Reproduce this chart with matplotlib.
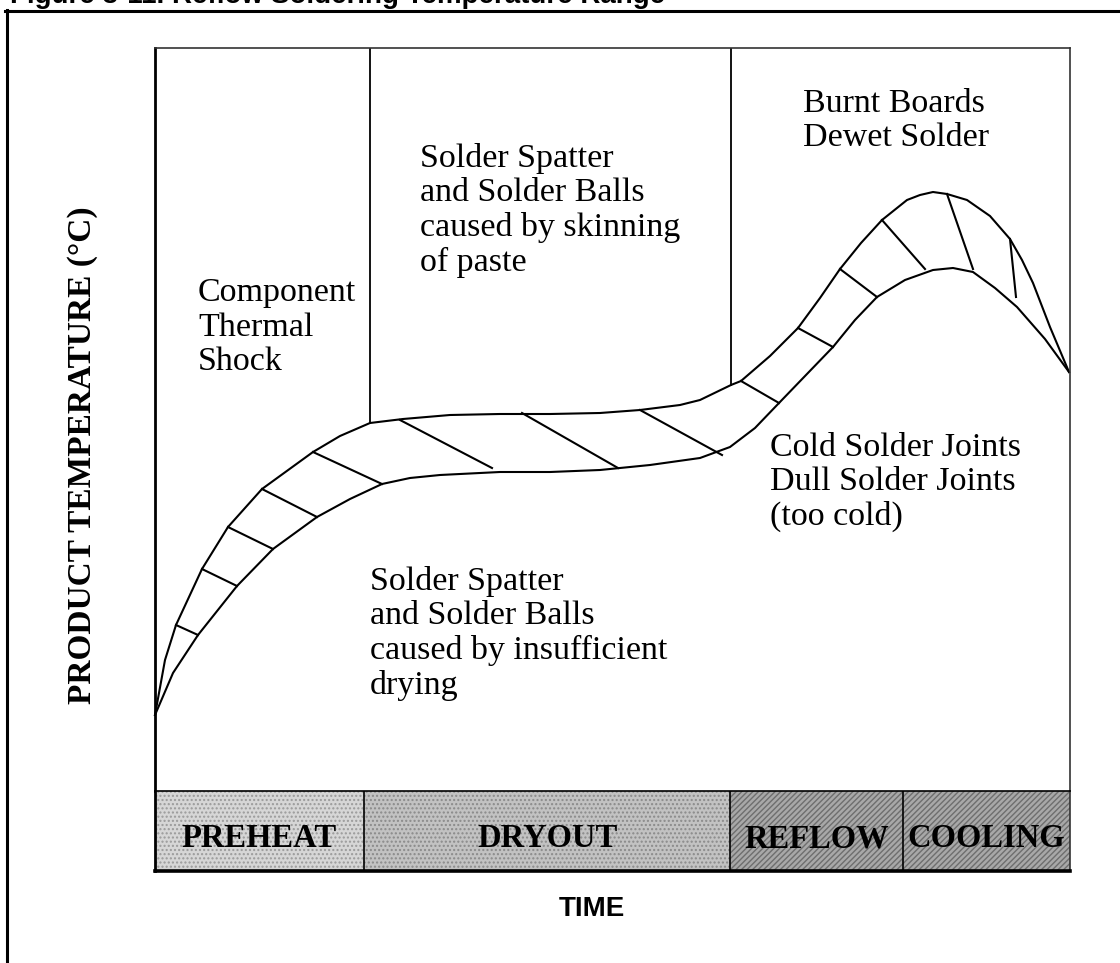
import numpy as np
import matplotlib
matplotlib.use('Agg')
import matplotlib.pyplot as plt
from matplotlib.lines import Line2D
from matplotlib.patches import Rectangle

W, H = 1120, 963

# profile band edges: (time, temperature) in arbitrary chart units
upper_t = [0, 10, 21, 47, 73, 107, 158, 185, 215, 248, 295, 345, 395, 445, 485, 525, 545,
           576, 586, 615, 643, 665, 685, 706, 727, 752, 765, 778, 792, 812, 835, 855, 867,
           878, 895, 914]
upper_T = [76, 131, 166, 222, 264, 302, 339, 355, 368, 372, 376, 377, 377, 378, 381, 386, 391,
           406, 410, 435, 463, 493, 522, 548, 571, 591, 596, 599, 597, 591, 575, 552, 531,
           508, 464, 419]
lower_t = [0, 18, 43, 82, 118, 162, 195, 227, 255, 285, 345, 395, 445, 495, 545, 575, 600,
           624, 651, 678, 700, 722, 750, 778, 798, 818, 840, 862, 890, 914]
lower_T = [76, 118, 156, 205, 242, 274, 292, 307, 313, 316, 319, 319, 321, 326, 333, 344, 363,
           388, 416, 444, 471, 494, 511, 521, 523, 519, 503, 484, 452, 419]

# cross ticks between the two edges
tick_t0 = [21, 47, 73, 107, 158, 245, 367, 485, 586, 643, 685, 727, 792, 855]
tick_T0 = [166, 222, 264, 302, 339, 371, 378, 381, 410, 463, 522, 571, 597, 552]
tick_t1 = [43, 82, 118, 162, 227, 337, 463, 567, 624, 678, 722, 770, 818, 861]
tick_T1 = [156, 205, 242, 274, 307, 323, 323, 336, 388, 444, 494, 522, 522, 494]

# zone dividers drawn in the upper area
divider_t = [215, 576]
divider_T = [368, 406]

phases = ['PREHEAT', 'DRYOUT', 'REFLOW', 'COOLING']
phase_edges = [0, 209, 575, 748, 915]
phase_colors = ['#d6d6d6', '#c2c2c2', '#a8a8a8', '#a8a8a8']
phase_hatch = ['....', '....', '//////', '//////']
phase_hcolor = ['#9a9a9a', '#8a8a8a', '#6e6e6e', '#6e6e6e']

notes = [
    'Component\nThermal\nShock',
    'Solder Spatter\nand Solder Balls\ncaused by skinning\nof paste',
    'Burnt Boards\nDewet Solder',
    'Cold Solder Joints\nDull Solder Joints\n(too cold)',
    'Solder Spatter\nand Solder Balls\ncaused by insufficient\ndrying',
]
note_t = [43, 265, 648, 615, 215]
note_T = [513, 648, 703, 359, 225]

serif = 'Liberation Serif'
sans = 'Liberation Sans'

fig = plt.figure(figsize=(W / 100, H / 100), dpi=100)
fig.patch.set_facecolor('white')

# outer frame (runs off the right and bottom edges)
fig.add_artist(Line2D([5 / W, 1.0], [1 - 11 / H, 1 - 11 / H], color='black', lw=2.2,
                      transform=fig.transFigure))
fig.add_artist(Line2D([6.5 / W, 6.5 / W], [1 - 10 / H, 0.0], color='black', lw=2.2,
                      transform=fig.transFigure))
fig.text(10 / W, 1 - 3 / H, 'Figure 3-11. Reflow Soldering Temperature Range',
         family=sans, weight='bold', fontsize=20, ha='left', va='baseline')

ax = fig.add_axes([155 / W, 1 - 791 / H, 915 / W, 743 / H])
ax.set_xlim(0, 915)
ax.set_ylim(0, 743)
ax.set_xticks([])
ax.set_yticks([])
for s in ['top', 'right']:
    ax.spines[s].set_linewidth(1.2)
    ax.spines[s].set_color('#333333')
ax.spines['left'].set_linewidth(2.0)
ax.spines['bottom'].set_visible(False)

ax.plot(upper_t, upper_T, color='black', lw=1.5, clip_on=False, solid_joinstyle='round')
ax.plot(lower_t, lower_T, color='black', lw=1.5, clip_on=False, solid_joinstyle='round')
for a, b, c, d in zip(tick_t0, tick_T0, tick_t1, tick_T1):
    ax.plot([a, c], [b, d], color='black', lw=1.5)
for t, T in zip(divider_t, divider_T):
    ax.plot([t, t], [T, 743], color='black', lw=1.3)

for txt, t, T in zip(notes, note_t, note_T):
    ax.text(t, T, txt, family=serif, fontsize=24.5, ha='left', va='top',
            linespacing=1.16)

band = fig.add_axes([155 / W, 1 - 871 / H, 915 / W, 80 / H])
band.set_xlim(0, 915)
band.set_ylim(0, 80)
band.set_xticks([])
band.set_yticks([])
for i, name in enumerate(phases):
    x0, x1 = phase_edges[i], phase_edges[i + 1]
    band.add_patch(Rectangle((x0, 0), x1 - x0, 80, facecolor=phase_colors[i],
                             edgecolor=phase_hcolor[i], hatch=phase_hatch[i], lw=0))
    band.text((x0 + x1) / 2, 24, name, family=serif, weight='bold', fontsize=23.5,
              ha='center', va='baseline')
for x in phase_edges[1:-1]:
    band.axvline(x, color='black', lw=1.2)
band.spines['left'].set_linewidth(2.0)
band.spines['bottom'].set_linewidth(2.6)
band.spines['top'].set_linewidth(1.2)
band.spines['right'].set_linewidth(1.2)
band.spines['right'].set_color('#333333')

fig.text(83 / W, 1 - 455 / H, 'PRODUCT TEMPERATURE (°C)', family=serif, weight='bold',
         fontsize=24, rotation=90, ha='center', va='center')
fig.text(592 / W, 1 - 916 / H, 'TIME', family=sans, weight='bold', fontsize=20,
         ha='center', va='baseline')

fig.savefig('out.png', dpi=100)
